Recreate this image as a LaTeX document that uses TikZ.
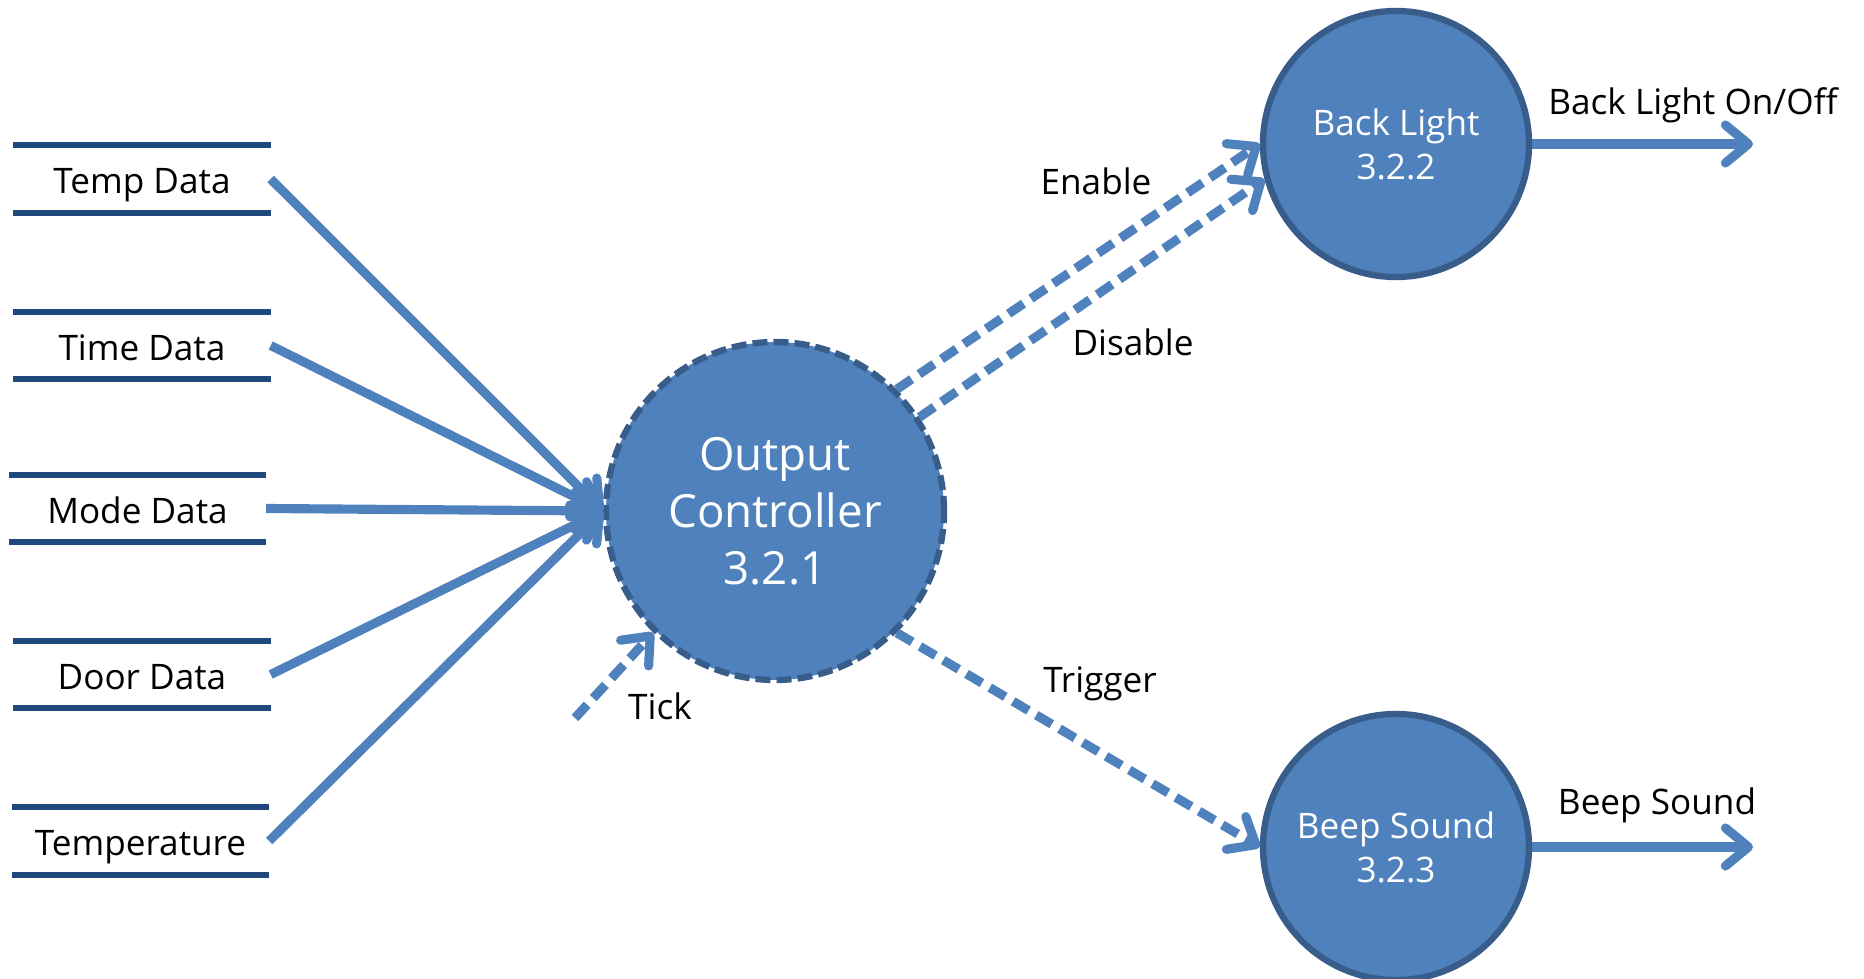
\documentclass[tikz,border=0pt]{standalone}
\usepackage{fontspec}
\setmainfont{Open Sans}
\usetikzlibrary{arrows.meta}
\definecolor{procblue}{HTML}{4F81BD}
\definecolor{procedge}{HTML}{385D8A}
\definecolor{storeblue}{HTML}{1F497D}

\begin{document}
\begin{tikzpicture}[
		proc/.style={circle,fill=procblue,draw=procedge,line width=1.8pt,text=white,align=center,inner sep=0pt,font=\fontsize{10}{12.5}\selectfont},
		store/.style={minimum width=2.56cm,minimum height=0.66cm,inner sep=0pt,text height=2.9mm,text depth=0pt,font=\fontsize{10}{12}\selectfont},
		storeline/.style={draw=storeblue,line width=1.6pt},
		flow/.style={color=procblue,line width=2.6pt,-{Straight Barb[length=2.3mm,width=3.8mm,round]}},
		ctrl/.style={flow,dash pattern=on 1.8mm off 0.9mm},
		lbl/.style={font=\fontsize{10}{12}\selectfont}]
			\useasboundingbox (0,0) rectangle (18.64,-9.79);
			% processes
			\draw (7.75,-5.11) node [proc,minimum size=3.38cm,dash pattern=on 1.5mm off 0.6mm,font=\fontsize{13}{16.2}\selectfont] (oc) {Output\\Controller\\3.2.1};
			\draw (13.96,-1.44) node [proc,minimum size=2.66cm] (bl) {Back Light\\3.2.2};
			\draw (13.96,-8.47) node [proc,minimum size=2.66cm] (bs) {Beep Sound\\3.2.3};
			% data stores
			\draw (1.42,-1.79) node [store] (td) {Temp Data};
			\draw (1.42,-3.455) node [store] (tid) {Time Data};
			\draw (1.375,-5.085) node [store] (md) {Mode Data};
			\draw (1.42,-6.745) node [store] (dd) {Door Data};
			\draw (1.405,-8.41) node [store] (tp) {Temperature};
			\foreach \n in {td,tid,md,dd,tp}
				\draw [storeline] (\n.north west) -- (\n.north east) (\n.south west) -- (\n.south east);
			% free ends
			\coordinate (tk) at (5.75,-7.18);
			\coordinate (blout) at (17.53,-1.44);
			\coordinate (bsout) at (17.53,-8.47);
			% labels
			\draw (10.96,-1.81) node [lbl] (en) {Enable};
			\draw (11.33,-3.42) node [lbl] (dis) {Disable};
			\draw (11.00,-6.84) node [lbl] (trg) {Trigger};
			\draw (6.60,-7.06) node [lbl] (tkl) {Tick};
			\draw (16.93,-1.05) node [lbl] (blo) {Back Light On/Off};
			\draw (16.57,-8.05) node [lbl] (bso) {Beep Sound};
			\path[flow]
				(td.east) edge (oc.west)
				(tid.east) edge (oc.west)
				(md.east) edge (oc.west)
				(dd.east) edge (oc.west)
				(tp.east) edge (oc.west)
				(bl.east) edge (blout)
				(bs.east) edge (bsout);
			\path[ctrl]
				(tk) edge (oc.225)
				(oc.45) edge (bl.180)
				(oc.33) edge (bl.195)
				(oc.-45) edge (bs.west);
		\end{tikzpicture}
\end{document}
